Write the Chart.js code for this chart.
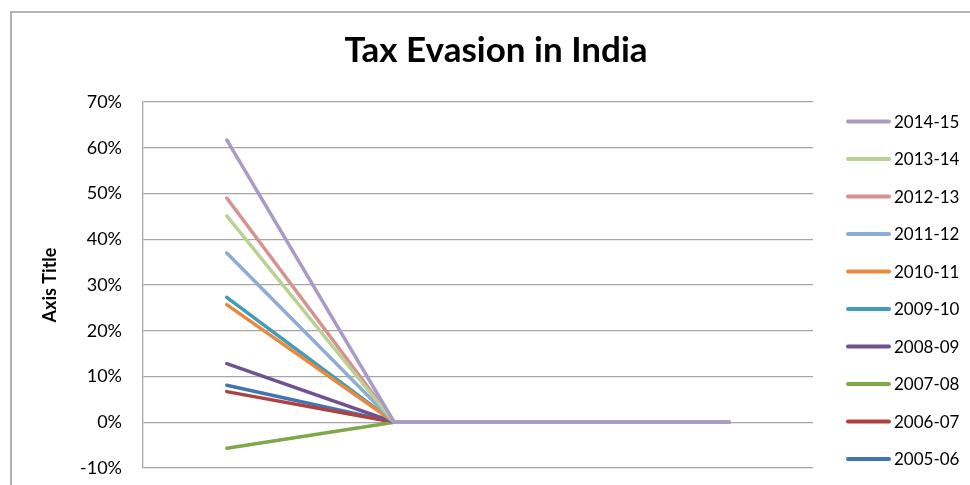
<!DOCTYPE html>
<html>
<head>
<meta charset="utf-8">
<script src="https://cdn.jsdelivr.net/npm/chart.js@4/dist/chart.umd.min.js"></script>
<style>
  html, body { margin: 0; padding: 0; background: #fff; overflow: hidden; }
  canvas { display: block; }
</style>
</head>
<body>
<canvas id="chartEvasion" width="970" height="485"></canvas>
<script>
// Datos (en %)
const categorias = ['1', '2', '3', '4'];
const anios = ['2014-15', '2013-14', '2012-13', '2011-12', '2010-11', '2009-10', '2008-09', '2007-08', '2006-07', '2005-06'];
const v2014_15 = [61.7, 0, 0, 0];
const v2013_14 = [45.1, 0, 0, 0];
const v2012_13 = [49.0, 0, 0, 0];
const v2011_12 = [37.0, 0, 0, 0];
const v2010_11 = [25.7, 0, 0, 0];
const v2009_10 = [27.3, 0, 0, 0];
const v2008_09 = [12.8, 0, 0, 0];
const v2007_08 = [-5.7, 0, 0, 0];
const v2006_07 = [6.7, 0, 0, 0];
const v2005_06 = [8.1, 0, 0, 0];
const yTicks = [-10, 0, 10, 20, 30, 40, 50, 60, 70];

const series = [v2014_15, v2013_14, v2012_13, v2011_12, v2010_11, v2009_10, v2008_09, v2007_08, v2006_07, v2005_06];
const colores = ['#A99BC8', '#B9D291', '#D69190', '#8FACD6', '#EA883D', '#3E9EB6', '#6E5291', '#80A849', '#B1413F', '#4674B0'];

// marco gris y leyenda propia
const marco = {
  id: 'marco',
  beforeDraw(chart) {
    const c = chart.ctx;
    c.save();
    c.fillStyle = '#fff';
    c.fillRect(0, 0, chart.width, chart.height);
    c.fillStyle = '#b3b3b3';
    c.fillRect(10, 11, 2, chart.height - 11);
    c.fillRect(10, 11, chart.width - 10, 2);
    c.restore();
  }
};
const leyenda = {
  id: 'leyenda',
  afterDraw(chart) {
    const c = chart.ctx;
    c.save();
    c.font = '17px Lato';
    c.textBaseline = 'middle';
    c.fillStyle = '#000';
    chart.data.datasets.forEach((ds, i) => {
      const y = 121.5 + i * 37.5;
      c.strokeStyle = ds.borderColor;
      c.lineWidth = 4;
      c.lineCap = 'round';
      c.beginPath(); c.moveTo(848, y); c.lineTo(889, y); c.stroke();
      c.fillText(ds.label, 894, y + 1);
    });
    c.restore();
  }
};

new Chart(document.getElementById('chartEvasion'), {
  type: 'line',
  data: {
    labels: categorias,
    datasets: anios.map((a, i) => ({
      label: a,
      data: series[i],
      borderColor: colores[i],
      backgroundColor: colores[i],
      borderWidth: 3.5,
      borderCapStyle: 'round',
      pointRadius: 0,
      tension: 0
    }))
  },
  options: {
    responsive: false,
    animation: false,
    layout: { padding: { left: 22, right: 0, top: 0, bottom: 17 } },
    plugins: {
      legend: { display: false },
      tooltip: { enabled: false },
      title: {
        display: true,
        text: 'Tax Evasion in India',
        color: '#000',
        font: { family: 'Lato', size: 35, weight: 'bold' },
        padding: { top: 30, bottom: 30 }
      }
    },
    scales: {
      x: { display: false, offset: true },
      y: {
        min: -10, max: 70,
        afterFit: s => { s.width = 121; },
        afterBuildTicks: s => { s.ticks = yTicks.map(v => ({ value: v })); },
        grid: { color: '#a6a6a6', lineWidth: 1.3, drawTicks: true, tickLength: 21, tickColor: 'rgba(0,0,0,0)' },
        border: { display: true, color: '#a6a6a6', width: 1.3 },
        ticks: {
          padding: 0, color: '#000',
          font: { family: 'Lato', size: 18 },
          callback: v => v + '%'
        },
        title: {
          display: true, text: 'Axis Title', color: '#000',
          font: { family: 'Lato', size: 18, weight: 'bold' },
          padding: { top: 17, bottom: 0 }
        }
      },
      yR: {
        position: 'right',
        afterFit: s => { s.width = 157; },
        grid: { display: false },
        border: { display: false },
        ticks: { display: false }
      }
    }
  },
  plugins: [marco, leyenda]
});
</script>
</body>
</html>
